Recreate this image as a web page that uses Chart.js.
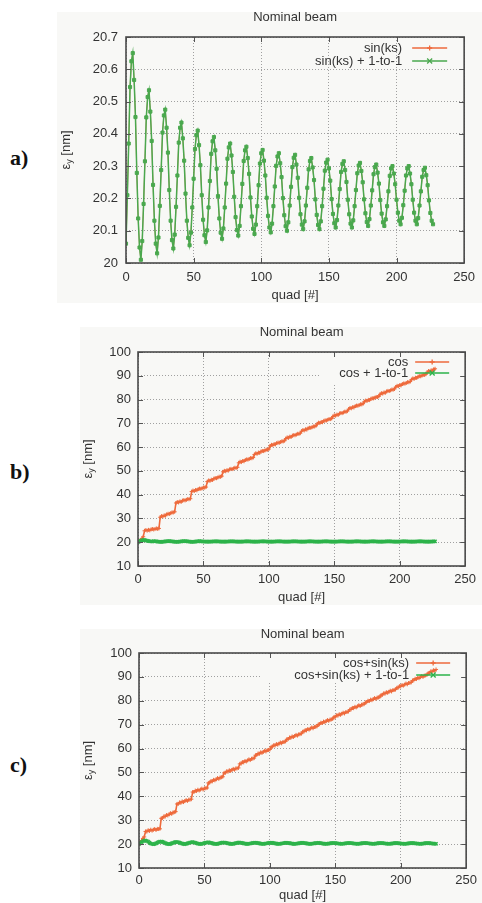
<!DOCTYPE html>
<html>
<head>
<meta charset="utf-8">
<script src="https://cdn.jsdelivr.net/npm/chart.js@4.4.0/dist/chart.umd.min.js"></script>
<style>
body{margin:0;background:#fff;width:482px;height:903px;position:relative;overflow:hidden;font-family:"Liberation Sans",Arial,sans-serif}
canvas{position:absolute}
.tag{position:absolute;font:bold 22px/22px "Liberation Serif","Times New Roman",serif;color:#111}
</style>
</head>
<body>
<div class="tag" style="left:10px;top:147px">a)</div>
<div class="tag" style="left:10px;top:461px">b)</div>
<div class="tag" style="left:10px;top:754px">c)</div>
<canvas id="panelA" width="425" height="291" style="left:57px;top:12px"></canvas>
<canvas id="panelB" width="402" height="278" style="left:80px;top:327px"></canvas>
<canvas id="panelC" width="402" height="274" style="left:80px;top:629px"></canvas>
<script>
// tick labels
var quadTicks = [0, 50, 100, 150, 200, 250];
var yTicksA = [20, 20.1, 20.2, 20.3, 20.4, 20.5, 20.6, 20.7];
var yTicksBC = [10, 20, 30, 40, 50, 60, 70, 80, 90, 100];

// a) emittance per quad, sin(ks) + 1-to-1 (the plain sin(ks) curve lies right under it)
var sinKs1to1 = [
  20.06, 20.21, 20.37, 20.545, 20.625, 20.65,
  20.567, 20.452, 20.279, 20.138, 20.048, 20.01,
  20.068, 20.183, 20.315, 20.451, 20.514, 20.535,
  20.469, 20.378, 20.242, 20.131, 20.06, 20.03,
  20.079, 20.177, 20.288, 20.404, 20.457, 20.475,
  20.419, 20.342, 20.226, 20.131, 20.071, 20.045,
  20.088, 20.174, 20.271, 20.373, 20.419, 20.435,
  20.386, 20.317, 20.215, 20.131, 20.078, 20.055,
  20.094, 20.172, 20.261, 20.353, 20.396, 20.41,
  20.365, 20.303, 20.21, 20.134, 20.086, 20.065,
  20.101, 20.172, 20.254, 20.338, 20.377, 20.39,
  20.349, 20.292, 20.207, 20.138, 20.094, 20.075,
  20.107, 20.172, 20.246, 20.323, 20.358, 20.37,
  20.333, 20.282, 20.205, 20.142, 20.102, 20.085,
  20.115, 20.176, 20.245, 20.316, 20.349, 20.36,
  20.325, 20.276, 20.203, 20.144, 20.106, 20.09,
  20.119, 20.176, 20.241, 20.308, 20.34, 20.35,
  20.317, 20.271, 20.202, 20.146, 20.11, 20.095,
  20.122, 20.176, 20.237, 20.301, 20.33, 20.34,
  20.309, 20.266, 20.201, 20.148, 20.114, 20.1,
  20.126, 20.178, 20.236, 20.297, 20.326, 20.335,
  20.305, 20.264, 20.202, 20.151, 20.119, 20.105,
  20.129, 20.178, 20.233, 20.29, 20.316, 20.325,
  20.296, 20.257, 20.197, 20.149, 20.118, 20.105,
  20.129, 20.176, 20.23, 20.286, 20.311, 20.32,
  20.293, 20.255, 20.198, 20.152, 20.123, 20.11,
  20.133, 20.178, 20.229, 20.282, 20.307, 20.315,
  20.288, 20.251, 20.196, 20.151, 20.122, 20.11,
  20.132, 20.176, 20.226, 20.278, 20.302, 20.31,
  20.285, 20.25, 20.197, 20.154, 20.127, 20.115,
  20.136, 20.178, 20.225, 20.275, 20.297, 20.305,
  20.28, 20.246, 20.195, 20.153, 20.126, 20.115,
  20.135, 20.176, 20.222, 20.27, 20.293, 20.3,
  20.277, 20.244, 20.196, 20.156, 20.131, 20.12,
  20.14, 20.179, 20.224, 20.271, 20.293, 20.3,
  20.277, 20.244, 20.196, 20.156, 20.131, 20.12,
  20.139, 20.178, 20.222, 20.267, 20.288, 20.295,
  20.272, 20.241, 20.194, 20.155, 20.131, 20.12
];
var sinKs = sinKs1to1;

// b) cos error
var cosErr = [
  20.1, 20.6, 21.0, 21.5, 22.3,
  24.8, 25.12, 24.88, 25.2, 24.98, 25.4, 25.55, 25.36, 25.54, 25.8, 25.62, 25.8,
  30.5, 30.98, 30.81, 31.29, 31.17, 31.75, 31.97, 31.92, 32.2, 32.54, 32.52, 32.8,
  36.5, 36.92, 36.72, 37.14, 36.98, 37.5, 37.69, 37.59, 37.83, 38.14, 38.06, 38.3,
  41.3, 41.73, 41.54, 41.97, 41.82, 42.35, 42.55, 42.45, 42.71, 43.02, 42.95, 43.2,
  45.5, 45.98, 45.81, 46.29, 46.17, 46.75, 46.97, 46.92, 47.2, 47.54, 47.52, 47.8,
  49.6, 50.03, 49.84, 50.27, 50.12, 50.65, 50.85, 50.75, 51.01, 51.32, 51.25, 51.5,
  53.4, 53.86, 53.7, 54.16, 54.04, 54.6, 54.81, 54.75, 55.03, 55.36, 55.32, 55.6,
  56.9, 57.38, 57.21, 57.69, 57.57, 58.15, 58.37, 58.32, 58.6, 58.94, 58.92, 59.2,
  60.5, 60.96, 60.8, 61.26, 61.14, 61.7, 61.91, 61.85, 62.13, 62.46, 62.42, 62.7,
  63.6, 64.07, 63.91, 64.38, 64.26, 64.83, 65.04, 64.99, 65.27, 65.6, 65.57, 65.85,
  66.7, 67.17, 67.01, 67.48, 67.36, 67.93, 68.14, 68.09, 68.37, 68.7, 68.67, 68.95,
  69.8, 70.27, 70.11, 70.58, 70.46, 71.03, 71.24, 71.19, 71.47, 71.8, 71.77, 72.05,
  72.9, 73.37, 73.21, 73.68, 73.56, 74.13, 74.34, 74.29, 74.57, 74.9, 74.87, 75.15,
  76.0, 76.47, 76.31, 76.78, 76.66, 77.23, 77.44, 77.39, 77.67, 78.0, 77.97, 78.25,
  79.1, 79.57, 79.41, 79.88, 79.76, 80.33, 80.54, 80.49, 80.77, 81.1, 81.07, 81.35,
  82.2, 82.67, 82.51, 82.98, 82.86, 83.43, 83.64, 83.59, 83.87, 84.2, 84.17, 84.45,
  85.3, 85.77, 85.61, 86.08, 85.96, 86.53, 86.74, 86.69, 86.97, 87.3, 87.27, 87.55,
  88.4, 88.87, 88.71, 89.18, 89.06, 89.63, 89.84, 89.79, 90.07, 90.4, 90.37, 90.65,
  91.5, 91.97, 91.81, 92.28, 92.16, 92.73, 92.94
];
var cos1to1 = [
  20.0, 20.3, 20.6, 20.8, 20.9, 20.9, 20.8, 20.6, 20.5, 20.4, 20.3, 20.3,
  20.45, 20.42, 20.35, 20.27, 20.2, 20.17, 20.17, 20.2, 20.27, 20.35, 20.42, 20.45,
  20.45, 20.42, 20.35, 20.27, 20.2, 20.17, 20.17, 20.2, 20.27, 20.35, 20.42, 20.45,
  20.45, 20.42, 20.35, 20.27, 20.2, 20.17, 20.17, 20.2, 20.27, 20.35, 20.42, 20.45,
  20.35, 20.34, 20.31, 20.28, 20.25, 20.24, 20.24, 20.25, 20.28, 20.31, 20.34, 20.35,
  20.35, 20.34, 20.31, 20.28, 20.25, 20.24, 20.24, 20.25, 20.28, 20.31, 20.34, 20.35,
  20.35, 20.34, 20.31, 20.28, 20.25, 20.24, 20.24, 20.25, 20.28, 20.31, 20.34, 20.35,
  20.35, 20.34, 20.31, 20.28, 20.25, 20.24, 20.24, 20.25, 20.28, 20.31, 20.34, 20.35,
  20.35, 20.34, 20.31, 20.28, 20.25, 20.24, 20.24, 20.25, 20.28, 20.31, 20.34, 20.35,
  20.35, 20.34, 20.31, 20.28, 20.25, 20.24, 20.24, 20.25, 20.28, 20.31, 20.34, 20.35,
  20.35, 20.34, 20.31, 20.28, 20.25, 20.24, 20.24, 20.25, 20.28, 20.31, 20.34, 20.35,
  20.35, 20.34, 20.31, 20.28, 20.25, 20.24, 20.24, 20.25, 20.28, 20.31, 20.34, 20.35,
  20.35, 20.34, 20.31, 20.28, 20.25, 20.24, 20.24, 20.25, 20.28, 20.31, 20.34, 20.35,
  20.35, 20.34, 20.31, 20.28, 20.25, 20.24, 20.24, 20.25, 20.28, 20.31, 20.34, 20.35,
  20.35, 20.34, 20.31, 20.28, 20.25, 20.24, 20.24, 20.25, 20.28, 20.31, 20.34, 20.35,
  20.35, 20.34, 20.31, 20.28, 20.25, 20.24, 20.24, 20.25, 20.28, 20.31, 20.34, 20.35,
  20.35, 20.34, 20.31, 20.28, 20.25, 20.24, 20.24, 20.25, 20.28, 20.31, 20.34, 20.35,
  20.35, 20.34, 20.31, 20.28, 20.25, 20.24, 20.24, 20.25, 20.28, 20.31, 20.34, 20.35,
  20.35, 20.34, 20.31, 20.28, 20.25, 20.24, 20.24, 20.25, 20.28, 20.31, 20.34, 20.35
];

// c) cos + sin(ks)
var cosSinKs = [
  20.0, 20.8, 21.5, 22.4, 23.0,
  25.3, 25.23, 25.8, 25.53, 26.02, 25.65, 26.01, 26.33, 25.91, 26.38, 26.31, 26.4,
  30.8, 30.94, 31.6, 31.54, 32.16, 32.0, 32.44, 32.95, 32.67, 33.24, 33.38, 33.6,
  36.8, 36.84, 37.46, 37.3, 37.86, 37.6, 38.0, 38.42, 38.08, 38.6, 38.64, 38.8,
  41.8, 41.8, 42.41, 42.21, 42.75, 42.45, 42.84, 43.22, 42.86, 43.36, 43.36, 43.5,
  45.6, 45.71, 46.37, 46.28, 46.89, 46.7, 47.13, 47.62, 47.32, 47.88, 47.99, 48.2,
  49.8, 49.85, 50.48, 50.33, 50.9, 50.65, 51.06, 51.49, 51.15, 51.68, 51.73, 51.9,
  53.6, 53.69, 54.33, 54.22, 54.81, 54.6, 55.02, 55.48, 55.18, 55.72, 55.81, 56.0,
  57.2, 57.29, 57.93, 57.82, 58.41, 58.2, 58.62, 59.08, 58.78, 59.32, 59.41, 59.6,
  60.7, 60.78, 61.41, 61.29, 61.87, 61.65, 62.07, 62.52, 62.2, 62.74, 62.82, 63.0,
  63.9, 63.98, 64.61, 64.49, 65.07, 64.85, 65.27, 65.72, 65.4, 65.94, 66.02, 66.2,
  67.0, 67.08, 67.71, 67.59, 68.17, 67.95, 68.37, 68.82, 68.5, 69.04, 69.12, 69.3,
  70.1, 70.18, 70.81, 70.69, 71.27, 71.05, 71.47, 71.92, 71.6, 72.14, 72.22, 72.4,
  73.2, 73.28, 73.91, 73.79, 74.37, 74.15, 74.57, 75.02, 74.7, 75.24, 75.32, 75.5,
  76.3, 76.38, 77.01, 76.89, 77.47, 77.25, 77.67, 78.12, 77.8, 78.34, 78.42, 78.6,
  79.3, 79.38, 80.01, 79.89, 80.47, 80.25, 80.67, 81.12, 80.8, 81.34, 81.42, 81.6,
  82.4, 82.48, 83.11, 82.99, 83.57, 83.35, 83.77, 84.22, 83.9, 84.44, 84.52, 84.7,
  85.4, 85.48, 86.11, 85.99, 86.57, 86.35, 86.77, 87.22, 86.9, 87.44, 87.52, 87.7,
  88.5, 88.58, 89.21, 89.09, 89.67, 89.45, 89.87, 90.32, 90.0, 90.54, 90.62, 90.8,
  91.6, 91.68, 92.31, 92.19, 92.77, 92.55, 93.1
];
var cosSinKs1to1 = [
  20.0, 20.4, 20.8, 21.2, 21.45, 21.5,
  21.3, 21.02, 20.6, 20.26, 20.04, 19.95,
  20.07, 20.31, 20.59, 20.87, 21.01, 21.05,
  20.91, 20.73, 20.44, 20.21, 20.06, 20.0,
  20.1, 20.3, 20.52, 20.76, 20.86, 20.9,
  20.79, 20.63, 20.39, 20.2, 20.07, 20.02,
  20.11, 20.28, 20.47, 20.68, 20.77, 20.8,
  20.7, 20.56, 20.36, 20.19, 20.09, 20.04,
  20.12, 20.26, 20.43, 20.61, 20.69, 20.72,
  20.63, 20.52, 20.34, 20.19, 20.1, 20.06,
  20.13, 20.26, 20.41, 20.56, 20.64, 20.66,
  20.58, 20.48, 20.32, 20.19, 20.11, 20.07,
  20.13, 20.25, 20.39, 20.53, 20.6, 20.62,
  20.55, 20.45, 20.31, 20.19, 20.11, 20.08,
  20.14, 20.25, 20.37, 20.5, 20.56, 20.58,
  20.52, 20.43, 20.3, 20.19, 20.12, 20.09,
  20.14, 20.24, 20.36, 20.48, 20.53, 20.55,
  20.49, 20.41, 20.29, 20.19, 20.13, 20.1,
  20.15, 20.24, 20.35, 20.46, 20.51, 20.53,
  20.47, 20.4, 20.28, 20.19, 20.13, 20.1,
  20.15, 20.24, 20.34, 20.44, 20.49, 20.51,
  20.46, 20.39, 20.28, 20.19, 20.13, 20.11,
  20.15, 20.24, 20.34, 20.44, 20.48, 20.5,
  20.45, 20.38, 20.27, 20.19, 20.13, 20.11,
  20.15, 20.23, 20.33, 20.42, 20.47, 20.48,
  20.43, 20.37, 20.27, 20.19, 20.14, 20.12,
  20.16, 20.24, 20.32, 20.41, 20.46, 20.47,
  20.43, 20.36, 20.27, 20.19, 20.14, 20.12,
  20.16, 20.23, 20.32, 20.41, 20.45, 20.46,
  20.42, 20.36, 20.26, 20.19, 20.14, 20.12,
  20.16, 20.23, 20.31, 20.4, 20.44, 20.45,
  20.41, 20.35, 20.26, 20.19, 20.15, 20.13,
  20.16, 20.23, 20.31, 20.39, 20.43, 20.44,
  20.4, 20.34, 20.26, 20.19, 20.15, 20.13,
  20.16, 20.23, 20.31, 20.39, 20.43, 20.44,
  20.4, 20.34, 20.26, 20.19, 20.15, 20.13,
  20.16, 20.23, 20.3, 20.38, 20.42, 20.43,
  20.39, 20.34, 20.26, 20.19, 20.15, 20.13
];

var BG = '#f8f8f6';
var INK = '#333';
var GRID = '#a0a0a0';
var ORANGE = '#ee6a3c';
var GREEN = '#4aa84e';
var BAND = '#2db34a';
var FONT = '"Liberation Sans", Arial, sans-serif';

function pts(vals) {
  return vals.map(function (v, i) { return { x: i, y: v }; });
}

function marker(ctx, kind, x, y, r) {
  ctx.beginPath();
  if (kind == '+') {
    ctx.moveTo(x - r, y); ctx.lineTo(x + r, y);
    ctx.moveTo(x, y - r); ctx.lineTo(x, y + r);
  } else {
    ctx.moveTo(x - r, y - r); ctx.lineTo(x + r, y + r);
    ctx.moveTo(x - r, y + r); ctx.lineTo(x + r, y - r);
  }
  ctx.stroke();
}

// gnuplot look: frame, inward ticks, title, y label, key inside the plot
var gnuplotFrame = {
  id: 'gnuplotFrame',
  beforeDraw: function (chart) {
    var ctx = chart.ctx;
    ctx.save();
    ctx.fillStyle = BG;
    ctx.fillRect(0, 0, chart.width, chart.height);
    ctx.restore();
  },
  beforeDatasetsDraw: function (chart, args, o) {
    var a = chart.chartArea, ctx = chart.ctx;
    if (o.keyBox) {
      ctx.save();
      ctx.fillStyle = BG;
      ctx.fillRect(a.left + o.keyBox[0], a.top + 1, a.right - a.left - o.keyBox[0] - 1, o.keyBox[1]);
      ctx.restore();
    }
  },
  afterDatasetsDraw: function (chart, args, o) {
    var a = chart.chartArea, ctx = chart.ctx;
    var xs = chart.scales.x, ys = chart.scales.y;
    ctx.save();
    ctx.strokeStyle = '#555';
    ctx.lineWidth = 1;
    xs.ticks.forEach(function (t) {
      var px = Math.round(xs.getPixelForValue(t.value)) + 0.5;
      ctx.beginPath();
      ctx.moveTo(px, a.bottom); ctx.lineTo(px, a.bottom - 5);
      ctx.moveTo(px, a.top); ctx.lineTo(px, a.top + 5);
      ctx.stroke();
    });
    ys.ticks.forEach(function (t) {
      var py = Math.round(ys.getPixelForValue(t.value)) + 0.5;
      ctx.beginPath();
      ctx.moveTo(a.left, py); ctx.lineTo(a.left + 5, py);
      ctx.moveTo(a.right, py); ctx.lineTo(a.right - 5, py);
      ctx.stroke();
    });
    ctx.lineWidth = 1.6;
    ctx.strokeStyle = '#4a4a4a';
    ctx.strokeRect(a.left, a.top, a.right - a.left, a.bottom - a.top);

    // title
    ctx.fillStyle = INK;
    ctx.font = '13px ' + FONT;
    ctx.textAlign = 'center';
    ctx.textBaseline = 'middle';
    ctx.fillText('Nominal beam', (a.left + a.right) / 2, o.titleY);

    // y label with subscript
    ctx.save();
    ctx.translate(o.yLabelX, (a.top + a.bottom) / 2);
    ctx.rotate(-Math.PI / 2);
    ctx.textAlign = 'left';
    var w1 = ctx.measureText('\u03b5').width;
    ctx.font = '9px ' + FONT;
    var w2 = ctx.measureText('y').width;
    ctx.font = '13px ' + FONT;
    var w3 = ctx.measureText(' [nm]').width;
    var x0 = -(w1 + w2 + w3) / 2;
    ctx.fillText('\u03b5', x0, 0);
    ctx.font = '9px ' + FONT;
    ctx.fillText('y', x0 + w1, 4);
    ctx.font = '13px ' + FONT;
    ctx.fillText(' [nm]', x0 + w1 + w2, 0);
    ctx.restore();

    // key
    ctx.font = '13px ' + FONT;
    ctx.textAlign = 'right';
    o.key.forEach(function (k, i) {
      var y = a.top + o.keyRows[i];
      ctx.fillStyle = INK;
      ctx.fillText(k.label, a.right - o.keyText, y);
      ctx.strokeStyle = k.color;
      ctx.lineWidth = 1.3;
      ctx.beginPath();
      ctx.moveTo(a.right - o.keyLine[0], y);
      ctx.lineTo(a.right - o.keyLine[1], y);
      ctx.stroke();
      marker(ctx, k.mark, a.right - (o.keyLine[0] + o.keyLine[1]) / 2, y, 2.5);
    });
    ctx.restore();
  }
};

function makePanel(id, p) {
  new Chart(document.getElementById(id), {
    type: 'line',
    data: { datasets: p.datasets },
    plugins: [gnuplotFrame],
    options: {
      responsive: false,
      animation: false,
      layout: { padding: { top: p.top, right: p.right, left: 0, bottom: 0 } },
      plugins: {
        legend: { display: false },
        tooltip: { enabled: false },
        gnuplotFrame: p.frame
      },
      scales: {
        x: {
          type: 'linear', min: 0, max: 250,
          afterBuildTicks: function (s) { s.ticks = quadTicks.map(function (v) { return { value: v }; }); },
          afterFit: function (s) { s.height = p.bottom; },
          grid: { color: GRID, drawTicks: false },
          border: { display: false, dash: [1, 2] },
          ticks: { padding: p.xPad, color: INK, font: { size: 13, family: FONT }, maxRotation: 0 },
          title: { display: true, text: 'quad [#]', color: INK, font: { size: 13, family: FONT }, padding: { top: 0, bottom: 0 } }
        },
        y: {
          min: p.yTicks[0], max: p.yTicks[p.yTicks.length - 1],
          afterBuildTicks: function (s) { s.ticks = p.yTicks.map(function (v) { return { value: v }; }); },
          afterFit: function (s) { s.width = p.left; },
          grid: { color: GRID, drawTicks: false },
          border: { display: false, dash: [1, 2] },
          ticks: { padding: p.yPad, color: INK, font: { size: 13, family: FONT }, callback: function (v) { return String(v); } }
        }
      }
    }
  });
}

makePanel('panelA', {
  top: 25, right: 16, left: 69, bottom: 40, xPad: 7, yPad: 8, yTicks: yTicksA,
  frame: {
    titleY: 5, yLabelX: 9, keyText: 62, keyLine: [52, 17], keyRows: [11, 24],
    key: [
      { label: 'sin(ks)', color: ORANGE, mark: '+' },
      { label: 'sin(ks) + 1-to-1', color: GREEN, mark: 'x' }
    ]
  },
  datasets: [
    { data: pts(sinKs1to1), borderColor: GREEN, borderWidth: 1.5, pointStyle: 'rect',
      pointRadius: 2.2, pointBackgroundColor: GREEN, pointBorderColor: GREEN, pointBorderWidth: 1, order: 0 },
    { data: pts(sinKs), borderColor: ORANGE, borderWidth: 0.8, pointRadius: 0, order: 1 }
  ]
});

makePanel('panelB', {
  top: 25, right: 13, left: 58, bottom: 39, xPad: 6, yPad: 7, yTicks: yTicksBC,
  frame: {
    titleY: 5, yLabelX: 8, keyText: 57, keyLine: [50, 16], keyRows: [10, 21], keyBox: [182, 30],
    key: [
      { label: 'cos', color: ORANGE, mark: '+' },
      { label: 'cos + 1-to-1', color: BAND, mark: 'x' }
    ]
  },
  datasets: [
    { data: pts(cos1to1), borderColor: BAND, borderWidth: 1, pointStyle: 'crossRot',
      pointRadius: 2.2, pointBorderColor: BAND, pointBorderWidth: 1.5, order: 0 },
    { data: pts(cosErr), borderColor: ORANGE, borderWidth: 1.6, pointStyle: 'cross',
      pointRadius: 2, pointBorderColor: ORANGE, pointBorderWidth: 1, order: 1 }
  ]
});

makePanel('panelC', {
  top: 24, right: 13, left: 59, bottom: 35, xPad: 5, yPad: 7, yTicks: yTicksBC,
  frame: {
    titleY: 5, yLabelX: 8, keyText: 57, keyLine: [50, 16], keyRows: [10, 22], keyBox: [121, 29],
    key: [
      { label: 'cos+sin(ks)', color: ORANGE, mark: '+' },
      { label: 'cos+sin(ks) + 1-to-1', color: BAND, mark: 'x' }
    ]
  },
  datasets: [
    { data: pts(cosSinKs1to1), borderColor: BAND, borderWidth: 1, pointStyle: 'crossRot',
      pointRadius: 2.2, pointBorderColor: BAND, pointBorderWidth: 1.5, order: 0 },
    { data: pts(cosSinKs), borderColor: ORANGE, borderWidth: 1.6, pointStyle: 'cross',
      pointRadius: 2, pointBorderColor: ORANGE, pointBorderWidth: 1, order: 1 }
  ]
});
</script>
</body>
</html>
